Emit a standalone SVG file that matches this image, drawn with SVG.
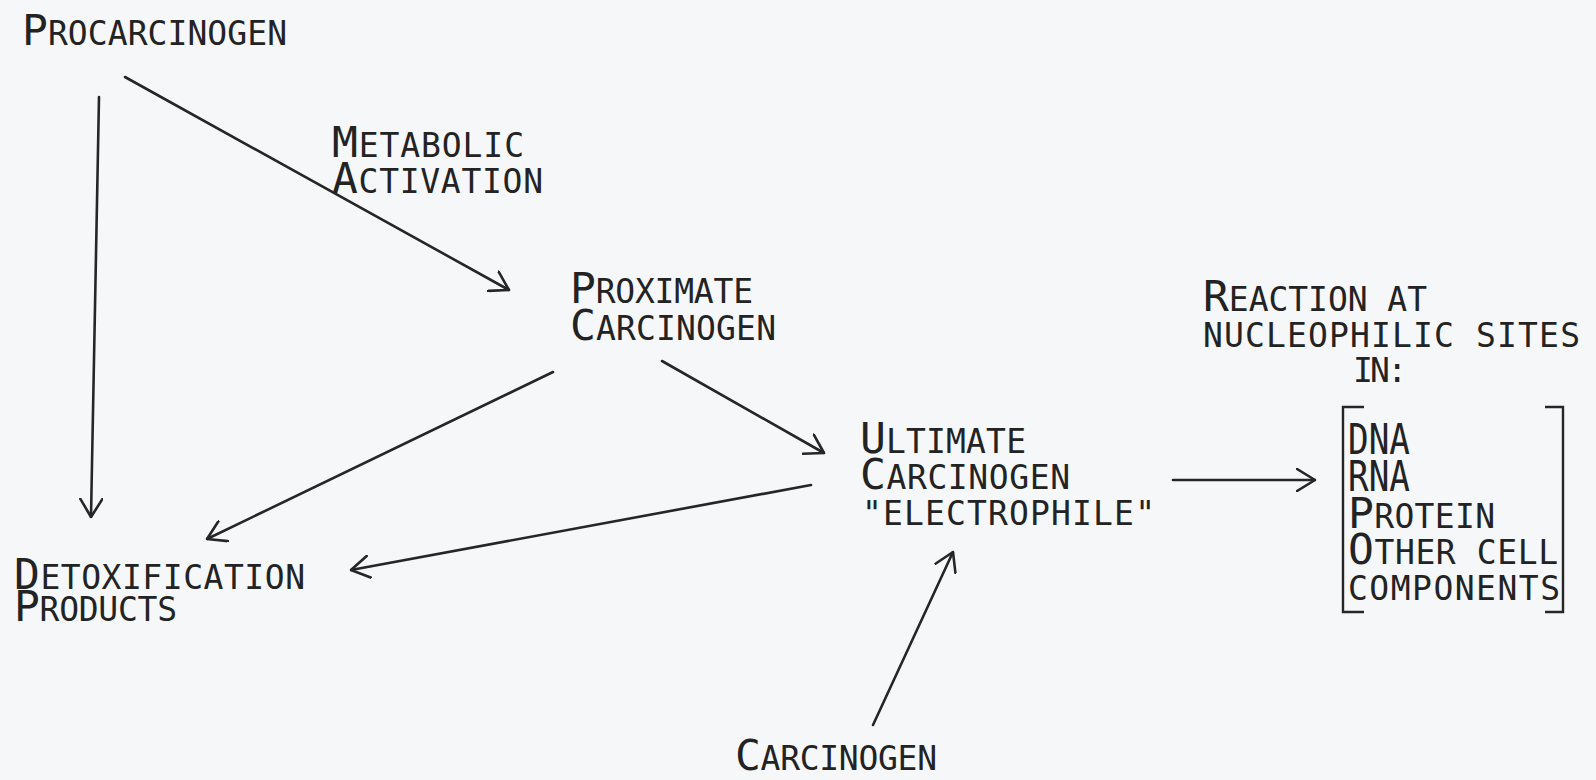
<svg xmlns="http://www.w3.org/2000/svg" width="1596" height="780" viewBox="0 0 1596 780">
<style>
.t{font-family:"DejaVu Sans Mono","Liberation Mono",monospace;font-size:33px;fill:#232323}
.L{font-size:43px}
.c{stroke:#262626;stroke-width:2.6;fill:none;stroke-linecap:round}
.b{stroke:#262626;stroke-width:2.4;fill:none}
</style>
<defs>
<marker id="ah" markerUnits="userSpaceOnUse" viewBox="0 0 20 24" markerWidth="20" markerHeight="24" refX="19" refY="12" orient="auto">
<path d="M1,1 L19,12 L1,23" fill="none" stroke="#262626" stroke-width="2.6" stroke-linecap="round" stroke-linejoin="round"/>
</marker>
</defs>
<rect width="1596" height="780" fill="#f6f7f9"/>
<g id="connectors">
<path class="c" d="M99,97 L91,517" marker-end="url(#ah)"/>
<path class="c" d="M125,77 L509,290" marker-end="url(#ah)"/>
<path class="c" d="M662,361 L824,453" marker-end="url(#ah)"/>
<path class="c" d="M553,372 L207,539" marker-end="url(#ah)"/>
<path class="c" d="M811,485 L351,570" marker-end="url(#ah)"/>
<path class="c" d="M1173,480 L1315,480" marker-end="url(#ah)"/>
<path class="c" d="M873,725 L953,552" marker-end="url(#ah)"/>
</g>
<g id="procarcinogen">
<text class="t" x="22" y="45" textLength="265" lengthAdjust="spacing"><tspan class="L">P</tspan>ROCARCINOGEN</text>
</g>
<g id="metabolic-activation">
<text class="t" x="332" y="157" textLength="192" lengthAdjust="spacing"><tspan class="L">M</tspan>ETABOLIC</text>
<text class="t" x="332" y="193" textLength="211" lengthAdjust="spacing"><tspan class="L">A</tspan>CTIVATION</text>
</g>
<g id="proximate">
<text class="t" x="570" y="303" textLength="183" lengthAdjust="spacing"><tspan class="L">P</tspan>ROXIMATE</text>
<text class="t" x="570" y="340" textLength="206" lengthAdjust="spacing"><tspan class="L">C</tspan>ARCINOGEN</text>
</g>
<g id="ultimate">
<text class="t" x="860" y="453" textLength="166" lengthAdjust="spacing"><tspan class="L">U</tspan>LTIMATE</text>
<text class="t" x="860" y="489" textLength="210" lengthAdjust="spacing"><tspan class="L">C</tspan>ARCINOGEN</text>
<text class="t" x="862" y="525" textLength="293" lengthAdjust="spacing">"ELECTROPHILE"</text>
</g>
<g id="detoxification">
<text class="t" x="14" y="589" textLength="291" lengthAdjust="spacing"><tspan class="L">D</tspan>ETOXIFICATION</text>
<text class="t" x="14" y="621" textLength="163" lengthAdjust="spacing"><tspan class="L">P</tspan>RODUCTS</text>
</g>
<g id="carcinogen">
<text class="t" x="735" y="770" textLength="202" lengthAdjust="spacing"><tspan class="L">C</tspan>ARCINOGEN</text>
</g>
<g id="reaction">
<text class="t" x="1203" y="311" textLength="224" lengthAdjust="spacing"><tspan class="L">R</tspan>EACTION AT</text>
<text class="t" x="1203" y="347" textLength="377" lengthAdjust="spacing">NUCLEOPHILIC SITES</text>
<text class="t" x="1353" y="382" textLength="54" lengthAdjust="spacing">IN:</text>
</g>
<g id="targets">
<path class="b" d="M1364,407 L1343,407 L1343,612 L1364,612"/>
<path class="b" d="M1545,407 L1563,407 L1563,612 L1545,612"/>
<text class="t L" x="1348" y="454" textLength="62" lengthAdjust="spacingAndGlyphs">DNA</text>
<text class="t L" x="1348" y="491" textLength="62" lengthAdjust="spacingAndGlyphs">RNA</text>
<text class="t" x="1348" y="528" textLength="147" lengthAdjust="spacing"><tspan class="L">P</tspan>ROTEIN</text>
<text class="t" x="1348" y="564" textLength="210" lengthAdjust="spacing"><tspan class="L">O</tspan>THER CELL</text>
<text class="t" x="1348" y="600" textLength="212" lengthAdjust="spacing">COMPONENTS</text>
</g>
</svg>
